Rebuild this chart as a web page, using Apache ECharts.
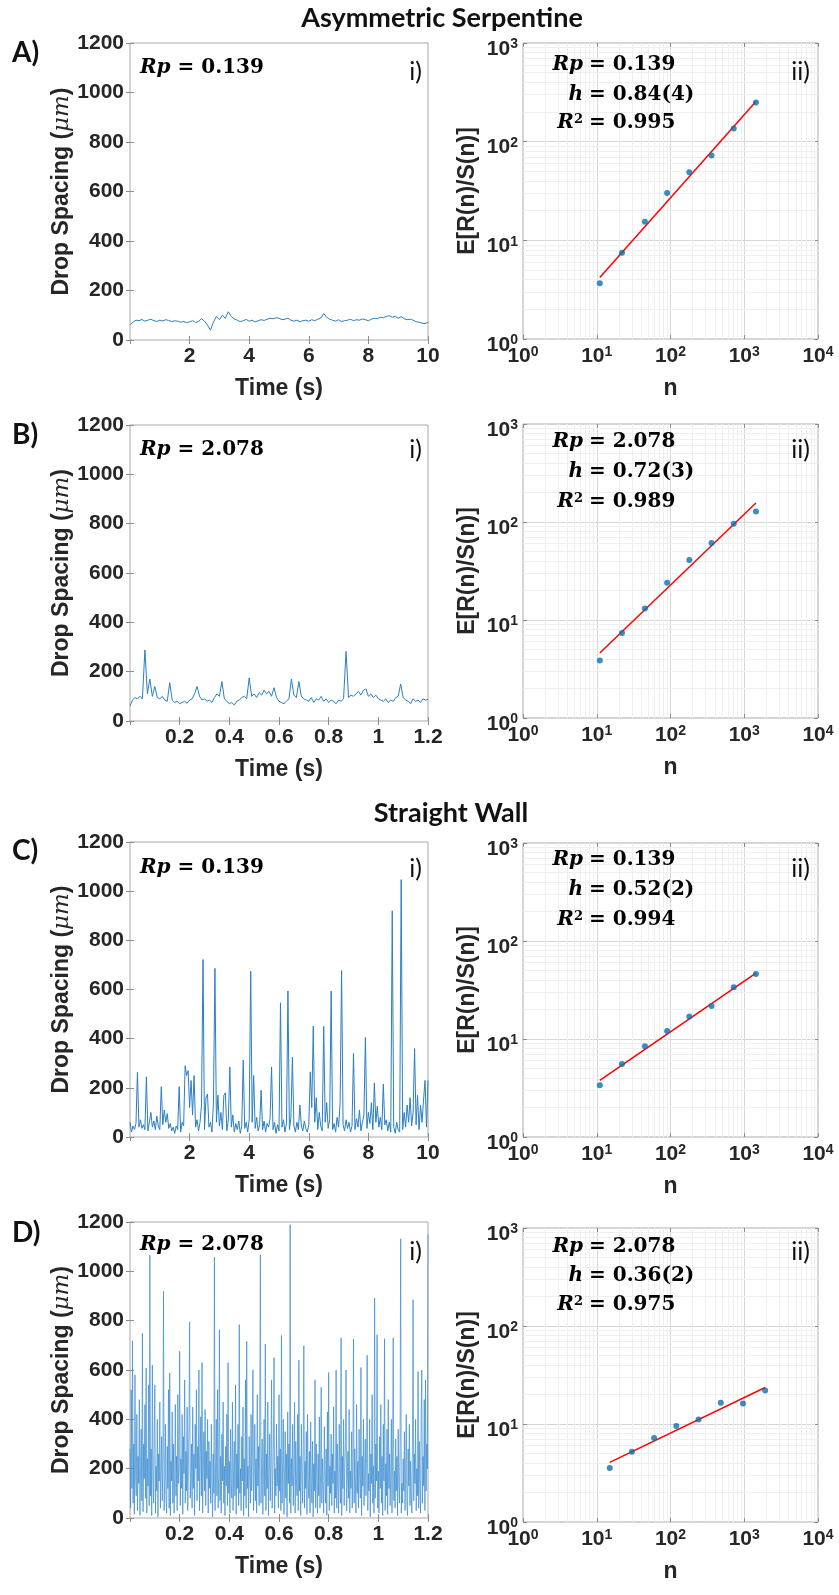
<!DOCTYPE html>
<html><head><meta charset="utf-8">
<script src="https://cdn.jsdelivr.net/npm/echarts@6/dist/echarts.min.js"></script>
<style>html,body{margin:0;padding:0;background:#fff}#c{width:839px;height:1595px}</style>
</head><body><div id="c"></div>
<script>
// ---------------- DATA ----------------
const dtA = 0.1, dtB = 0.01, dtC = 0.05, dtD = 0.0025;
const spacingA = [62,72,80,78,83,76,80,84,78,75,
 80,77,82,79,74,78,76,72,75,70,
 73,78,71,75,86,76,60,40,72,95,
 82,100,88,114,95,85,80,74,78,83,
 76,80,73,78,82,79,84,88,86,90,
 88,82,84,88,80,76,80,74,78,80,
 76,82,78,84,88,107,92,84,80,76,
 82,74,78,80,84,78,82,80,85,82,
 78,84,88,86,92,90,95,98,92,96,
 88,94,86,82,84,80,74,72,68,66,
 72];
const spacingB = [60,85,95,90,100,90,288,110,170,100,140,95,90,100,85,80,155,85,75,80,
 70,75,80,72,85,90,110,140,100,85,90,80,85,75,95,110,100,160,90,80,
 70,75,65,80,85,95,100,90,175,100,110,95,115,105,125,110,120,100,135,95,
 80,75,70,80,90,170,105,95,160,100,90,85,80,95,75,90,85,100,80,90,
 75,85,80,70,85,80,90,282,95,105,100,110,120,105,125,130,100,110,95,105,
 90,85,80,90,75,85,80,95,100,150,95,85,80,70,90,80,85,75,90,85,
 88];
const spacingC = [60,20,45,30,55,263,40,70,35,50,30,245,25,60,100,40,65,30,85,45,
 30,205,50,110,60,95,35,55,25,40,15,45,30,205,20,60,45,290,250,270,
 120,230,90,250,40,70,25,60,130,722,30,160,175,40,60,20,140,686,60,170,
 45,100,30,170,180,25,70,285,40,90,20,55,30,65,15,45,313,35,60,20,
 70,675,60,250,35,80,25,50,190,30,65,20,55,40,75,285,30,60,15,50,
 25,546,40,70,20,55,594,30,80,325,45,20,60,30,130,45,25,65,35,20,
 50,265,120,451,60,160,30,100,45,25,450,60,140,35,70,594,30,55,20,80,
 40,135,677,50,25,70,35,60,20,45,340,30,75,40,110,25,60,90,405,35,
 100,55,140,30,220,60,125,40,80,30,215,50,70,25,60,20,920,40,15,60,
 30,20,1047,30,100,40,130,60,160,45,100,360,50,170,30,130,60,150,230,40,
 230];
const spacingD = [
 280,40,520,120,719,60,300,15,581,180,90,420,30,250,140,480,10,200,360,70,
 750,25,300,160,460,80,608,20,240,130,540,50,1065,90,280,10,620,170,60,330,
 540,20,210,110,400,5,260,150,470,40,190,330,70,240,919,30,150,380,90,20,
 290,120,520,40,588,10,230,150,430,60,300,20,180,460,90,250,30,500,140,210,
 676,50,240,120,420,15,330,180,560,60,270,110,450,30,200,380,795,80,160,300,
 40,450,120,260,10,380,200,520,70,290,150,600,30,240,410,90,630,20,180,350,
 110,440,50,270,160,400,20,310,120,230,60,380,150,5,260,100,1057,30,220,400,
 90,520,40,180,763,70,250,20,340,150,470,60,210,10,290,130,420,50,630,100,
 230,20,360,140,80,470,30,200,310,90,540,15,260,120,380,50,784,100,200,30,
 330,150,450,10,240,90,560,40,716,120,210,5,330,170,60,420,110,260,600,30,
 180,380,70,240,20,500,130,290,50,440,1067,60,200,320,15,160,400,90,705,30,
 260,120,470,10,190,340,70,230,560,40,150,300,650,20,200,90,380,130,250,40,
 500,110,280,30,740,60,220,400,15,170,350,80,260,5,430,140,300,60,1189,20,
 240,130,380,50,200,470,20,310,160,90,420,30,640,110,250,10,380,180,60,290,
 698,40,230,120,350,15,420,160,80,270,20,390,140,60,310,5,220,110,560,40,
 300,150,20,260,90,410,40,180,530,60,240,120,20,370,160,60,280,10,430,130,
 590,30,210,100,340,50,260,140,450,20,190,80,600,40,300,130,20,380,170,60,
 730,10,250,120,400,50,200,310,600,30,150,270,80,440,20,190,120,350,40,230,
 725,60,280,150,20,460,100,230,40,360,170,80,610,10,250,130,400,50,200,320,
 90,240,660,30,180,110,400,5,260,140,500,60,210,20,892,80,300,150,743,40,
 190,20,330,120,460,60,250,10,380,150,727,30,220,90,360,15,480,120,260,50,
 170,400,20,280,730,70,190,40,320,110,250,10,360,150,60,290,1132,20,140,60,
 240,110,350,30,180,420,60,10,280,130,380,50,230,100,20,320,885,70,260,140,
 400,30,200,90,594,40,310,150,20,420,600,60,250,130,480,30,560,110,300,200,
 1150];

const nABC = [11, 22, 45, 90, 180, 360, 720, 1440];
const nD = [15, 30, 60, 120, 240, 480, 960, 1920];
const rsA = [3.67, 7.5, 15.4, 30.1, 48.9, 72.6, 136, 250];
const rsB = [3.87, 7.37, 13.1, 24.0, 41, 61, 96, 128];
const rsC = [3.37, 5.56, 8.42, 12.1, 17.0, 21.7, 33.7, 46];
const rsD = [3.56, 5.22, 7.2, 9.55, 11.1, 16.5, 16.2, 22.0];
const fitNABC = [11, 1440];
const fitND = [15, 1920];
const fitA = [4.2, 255];
const fitB = [4.6, 156];
const fitC = [3.79, 47.1];
const fitD = [4.06, 23.6];

const panelLetters = ['A)', 'B)', 'C)', 'D)'];
const rpText = ['0.139', '2.078', '0.139', '2.078'];
const hText = ['0.84(4)', '0.72(3)', '0.52(2)', '0.36(2)'];
const r2Text = ['0.995', '0.989', '0.994', '0.975'];
const sectionTitles = ['Asymmetric Serpentine', 'Straight Wall'];
const timeMax = [10, 1.2, 10, 1.2];
const timeInterval = [2, 0.2, 2, 0.2];

// ---------------- LAYOUT ----------------
const leftGrids = [
  {left:130, top:43, width:298, height:297},
  {left:130, top:425, width:298, height:296},
  {left:130, top:842, width:298, height:295},
  {left:130, top:1222, width:298, height:296}];
const rightGrids = [
  {left:523, top:43, width:295, height:296},
  {left:523, top:424, width:295, height:294},
  {left:523, top:843, width:295, height:294},
  {left:523, top:1228, width:295, height:294}];
const letterY = [53, 435, 851, 1233];
const leftRpY = [68, 450, 868, 1245];
const iY = [72, 450, 869, 1252];
const rightRowsY = [[65, 95, 123], [442, 472, 502], [860, 890, 920], [1247, 1276, 1305]];
const titlePos = [[442, 18], [451, 813]];

const SANS = '"Liberation Sans", Arial, sans-serif';
const SERIF = '"DejaVu Serif", serif';
const HUM = 'Lato, "Open Sans", sans-serif';
const TXT = '#262626';
const BOX = '#a8a8a8';

const tData = [[spacingA, dtA], [spacingB, dtB], [spacingC, dtC], [spacingD, dtD]];
const rsData = [[nABC, rsA, fitNABC, fitA], [nABC, rsB, fitNABC, fitB], [nABC, rsC, fitNABC, fitC], [nD, rsD, fitND, fitD]];

const minorX = [], minorY = [];
for (let k = 0; k < 4; k++) for (let m = 2; m <= 9; m++) { minorX.push(m * Math.pow(10, k)); if (k < 3) minorY.push(m * Math.pow(10, k)); }

const grids = [], xAxes = [], yAxes = [], series = [];
const tickStyle = {inside: true, length: 4, lineStyle: {color: '#8c8c8c', width: 1}};
const logFmt = v => '{b|10}{s|' + Math.round(Math.log10(v)) + '}';
const logRich = {
  b: {fontSize: 21, fontWeight: 'bold', fontFamily: SANS, color: TXT, lineHeight: 22, padding: [5, 0, 0, 0], verticalAlign: 'bottom'},
  s: {fontSize: 14, fontWeight: 'bold', fontFamily: SANS, color: TXT, lineHeight: 10, verticalAlign: 'top'}
};
const nameStyle = {fontSize: 23, fontWeight: 'bold', fontFamily: SANS, color: TXT};
const plainFmt = v => String(+v.toFixed(4));

for (let r = 0; r < 4; r++) {
  // ----- time series panel -----
  let gi = grids.length;
  grids.push(Object.assign({show: true, borderColor: BOX, borderWidth: 1, backgroundColor: '#fff'}, leftGrids[r]));
  let xi = xAxes.length, yi = yAxes.length;
  xAxes.push({type: 'value', gridIndex: gi, position: 'bottom', min: 0, max: timeMax[r], interval: timeInterval[r],
    axisLine: {show: false}, axisTick: tickStyle, splitLine: {show: false},
    axisLabel: {showMinLabel: false, formatter: plainFmt, fontSize: 21, fontWeight: 'bold', fontFamily: SANS, color: TXT, margin: 6},
    name: 'Time (s)', nameLocation: 'middle', nameGap: 37, nameTextStyle: nameStyle});
  xAxes.push({type: 'value', gridIndex: gi, position: 'top', min: 0, max: timeMax[r], interval: timeInterval[r],
    axisLine: {show: false}, axisTick: tickStyle, splitLine: {show: false}, axisLabel: {show: false}});
  yAxes.push({type: 'value', gridIndex: gi, position: 'left', min: 0, max: 1200, interval: 200,
    axisLine: {show: false}, axisTick: tickStyle, splitLine: {show: false},
    axisLabel: {formatter: plainFmt, fontSize: 21, fontWeight: 'bold', fontFamily: SANS, color: TXT, margin: 6},
    name: '{a|Drop Spacing (}{m|μm}{a|)}', nameLocation: 'middle', nameGap: 56,
    nameTextStyle: {rich: {a: nameStyle, m: {fontSize: 23, fontStyle: 'italic', fontFamily: SERIF, color: TXT}}}});
  yAxes.push({type: 'value', gridIndex: gi, position: 'right', min: 0, max: 1200, interval: 200,
    axisLine: {show: false}, axisTick: tickStyle, splitLine: {show: false}, axisLabel: {show: false}});
  const [vals, dt] = tData[r];
  series.push({type: 'line', xAxisIndex: xi, yAxisIndex: yi, showSymbol: false, animation: false,
    data: vals.map((v, i) => [+(i * dt).toFixed(4), v]),
    lineStyle: {color: r === 3 ? '#3a8bd0' : '#2a7fc4', width: r === 3 ? 0.7 : 1}, z: 2});

  // ----- R/S panel -----
  gi = grids.length;
  grids.push(Object.assign({show: true, borderColor: BOX, borderWidth: 1, backgroundColor: '#fff'}, rightGrids[r]));
  xi = xAxes.length; yi = yAxes.length;
  xAxes.push({type: 'log', logBase: 10, gridIndex: gi, position: 'bottom', min: 1, max: 10000,
    axisLine: {show: false}, axisTick: tickStyle, splitLine: {show: true, lineStyle: {color: '#d6d6d6'}},
    axisLabel: {formatter: logFmt, rich: logRich, margin: 6},
    name: 'n', nameLocation: 'middle', nameGap: 38, nameTextStyle: nameStyle});
  xAxes.push({type: 'log', logBase: 10, gridIndex: gi, position: 'top', min: 1, max: 10000,
    axisLine: {show: false}, axisTick: tickStyle, splitLine: {show: false}, axisLabel: {show: false}});
  yAxes.push({type: 'log', logBase: 10, gridIndex: gi, position: 'left', min: 1, max: 1000,
    axisLine: {show: false}, axisTick: tickStyle, splitLine: {show: true, lineStyle: {color: '#d6d6d6'}},
    axisLabel: {formatter: logFmt, rich: logRich, margin: 5, padding: [11, 0, 0, 0]},
    name: 'E[R(n)/S(n)]', nameLocation: 'middle', nameGap: 44, nameTextStyle: nameStyle});
  yAxes.push({type: 'log', logBase: 10, gridIndex: gi, position: 'right', min: 1, max: 1000,
    axisLine: {show: false}, axisTick: tickStyle, splitLine: {show: false}, axisLabel: {show: false}});
  const [nn, rs, fn, fv] = rsData[r];
  series.push({type: 'line', xAxisIndex: xi, yAxisIndex: yi, data: [[1, 1]], showSymbol: false, silent: true,
    lineStyle: {width: 0}, z: 1, animation: false,
    markLine: {silent: true, z: 1, symbol: ['none', 'none'], label: {show: false}, animation: false,
      lineStyle: {color: '#efefef', width: 1, type: 'solid'},
      data: minorX.map(v => ({xAxis: v})).concat(minorY.map(v => ({yAxis: v})))}});
  series.push({type: 'line', xAxisIndex: xi, yAxisIndex: yi, showSymbol: false, animation: false,
    data: fn.map((v, i) => [v, fv[i]]), lineStyle: {color: '#ff0000', width: 1.5}, z: 10});
  series.push({type: 'scatter', xAxisIndex: xi, yAxisIndex: yi, animation: false,
    data: nn.map((v, i) => [v, rs[i]]), symbolSize: 6, itemStyle: {color: '#0b6fae'}, z: 11});
}

// ---------------- TEXT ----------------
const mathRich = {
  i: {fontFamily: SERIF, fontWeight: 'bold', fontStyle: 'italic', fontSize: 20, color: '#111'},
  n: {fontFamily: SERIF, fontWeight: 'bold', fontSize: 20, color: '#111'},
  s: {fontFamily: SERIF, fontWeight: 'bold', fontSize: 13, color: '#111', verticalAlign: 'top', lineHeight: 12}
};
const graphics = [];
sectionTitles.forEach((t, k) => graphics.push({type: 'text', x: titlePos[k][0], y: titlePos[k][1], silent: true, z: 100,
  style: {text: t, align: 'center', verticalAlign: 'middle', font: 'bold 27px ' + HUM, fill: '#111'}}));
for (let r = 0; r < 4; r++) {
  graphics.push({type: 'text', x: 12, y: letterY[r], silent: true, z: 100,
    style: {text: panelLetters[r], align: 'left', verticalAlign: 'middle', font: 'bold 28px ' + HUM, fill: '#111'}});
  graphics.push({type: 'text', x: 140, y: leftRpY[r], silent: true, z: 100,
    style: {text: '{i|Rp}{n| = ' + rpText[r] + '}', rich: mathRich, align: 'left', verticalAlign: 'middle'}});
  graphics.push({type: 'text', x: 422, y: iY[r], silent: true, z: 100,
    style: {text: 'i)', align: 'right', verticalAlign: 'middle', font: '25px ' + HUM, fill: '#111'}});
  graphics.push({type: 'text', x: 810, y: iY[r], silent: true, z: 100,
    style: {text: 'ii)', align: 'right', verticalAlign: 'middle', font: '25px ' + HUM, fill: '#111'}});
  const ys = rightRowsY[r];
  const lefts = ['{i|Rp}', '{i|h}', '{i|R}{s|2}'];
  const rights = ['= ' + rpText[r], '= ' + hText[r], '= ' + r2Text[r]];
  for (let j = 0; j < 3; j++) {
    graphics.push({type: 'text', x: 583, y: ys[j], silent: true, z: 100,
      style: {text: lefts[j], rich: mathRich, align: 'right', verticalAlign: 'middle'}});
    graphics.push({type: 'text', x: 589, y: ys[j], silent: true, z: 100,
      style: {text: '{n|' + rights[j] + '}', rich: mathRich, align: 'left', verticalAlign: 'middle'}});
  }
}

const chart = echarts.init(document.getElementById('c'), null, {renderer: 'canvas'});
chart.setOption({
  animation: false,
  backgroundColor: '#fff',
  grid: grids, xAxis: xAxes, yAxis: yAxes, series: series, graphic: graphics
});
</script></body></html>
